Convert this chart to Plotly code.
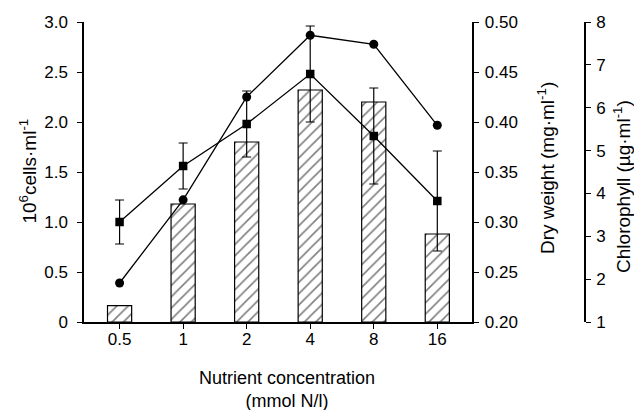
import plotly.graph_objects as go

categories = ["0.5", "1", "2", "4", "8", "16"]
cells = [0.164, 1.18, 1.80, 2.32, 2.20, 0.88]            # bars, 10^6 cells/ml
dry_weight = [0.300, 0.356, 0.398, 0.448, 0.386, 0.321]   # squares, mg/ml
dry_weight_err = [0.022, 0.023, 0.033, 0.048, 0.048, 0.050]
chlorophyll = [1.91, 3.85, 6.25, 7.69, 7.48, 5.59]        # circles, ug/ml

left_ticks = [0, 0.5, 1.0, 1.5, 2.0, 2.5, 3.0]
left_ticktext = ["0", "0.5", "1.0", "1.5", "2.0", "2.5", "3.0"]
dw_ticks = [0.20, 0.25, 0.30, 0.35, 0.40, 0.45, 0.50]
chl_ticks = [1, 2, 3, 4, 5, 6, 7, 8]

FONT = "Liberation Sans, Arial, sans-serif"
OFF = 8  # page body margin in the browser
W, H = 642 - OFF, 410 - OFF
# plot area in screen pixels, converted to figure pixels
L, R, T, B = 83.5 - OFF, 585 - OFF, 21.5 - OFF, 322.5 - OFF
x_dom_end = (471.5 - OFF - L) / (R - L)

def px(sx):
    return (sx - OFF - L) / (R - L)

def py(sy):
    return (B - (sy - OFF)) / (B - T)

fig = go.Figure()
fig.add_trace(go.Bar(
    x=categories, y=cells, width=0.38, yaxis="y",
    marker=dict(color="white", line=dict(color="black", width=1.2),
                pattern=dict(shape="/", fgcolor="black", bgcolor="white",
                             size=8, solidity=0.2)),
    showlegend=False,
))
fig.add_trace(go.Scatter(
    x=categories, y=dry_weight, yaxis="y2", mode="lines+markers",
    line=dict(color="black", width=1.3),
    marker=dict(symbol="square", size=8.5, color="black"),
    error_y=dict(type="data", array=dry_weight_err, color="black", thickness=1.2, width=4.5),
    showlegend=False,
))
fig.add_trace(go.Scatter(
    x=categories, y=chlorophyll, yaxis="y3", mode="lines+markers",
    line=dict(color="black", width=1.3),
    marker=dict(symbol="circle", size=9, color="black"),
    showlegend=False,
))

tickfont = dict(family=FONT, size=17, color="black")
axis_common = dict(showline=True, linecolor="black", linewidth=1.5, ticks="outside",
                   tickcolor="black", tickwidth=1.3, ticklen=5, showgrid=False,
                   zeroline=False, tickfont=tickfont, automargin=False)

fig.update_layout(
    width=W, height=H, autosize=False,
    margin=dict(l=L, r=W - R, t=T, b=H - B, pad=0, autoexpand=False),
    paper_bgcolor="white", plot_bgcolor="white",
    xaxis=dict(type="category", domain=[0, x_dom_end], range=[-0.56, 5.54],
               ticklabelstandoff=-4, **axis_common),
    yaxis=dict(range=[0, 3.0], tickvals=left_ticks, ticktext=left_ticktext,
               ticklabelstandoff=6, **axis_common),
    yaxis2=dict(range=[0.20, 0.50], tickvals=dw_ticks, tickformat=".2f",
                overlaying="y", side="right", anchor="x", ticklabelstandoff=2,
                **{**axis_common, "ticklen": 6}),
    yaxis3=dict(range=[1, 8], tickvals=chl_ticks, overlaying="y", side="right",
                anchor="free", position=1.0, ticklabelstandoff=2, **axis_common),
    font=dict(family=FONT, color="black"),
)

yt_font = dict(family=FONT, size=19, color="black")
xt_font = dict(family=FONT, size=18, color="black")
fig.add_annotation(text="10<sup>6</sup>cells·ml<sup>-1</sup>", textangle=-90,
                   xref="paper", yref="paper", x=px(27), y=py(171),
                   showarrow=False, font=yt_font, xanchor="center", yanchor="middle")
fig.add_annotation(text="Dry weight (mg·ml<sup>-1</sup>)", textangle=-90,
                   xref="paper", yref="paper", x=px(546), y=py(168),
                   showarrow=False, font=yt_font, xanchor="center", yanchor="middle")
fig.add_annotation(text="Chlorophyll (µg·ml<sup>-1</sup>)", textangle=-90,
                   xref="paper", yref="paper", x=px(622), y=py(186),
                   showarrow=False, font=yt_font, xanchor="center", yanchor="middle")
fig.add_annotation(text="Nutrient concentration<br>(mmol N/l)",
                   xref="paper", yref="paper", x=px(287), y=py(390),
                   showarrow=False, font=xt_font, xanchor="center", yanchor="middle")

fig.write_html("out.html")
